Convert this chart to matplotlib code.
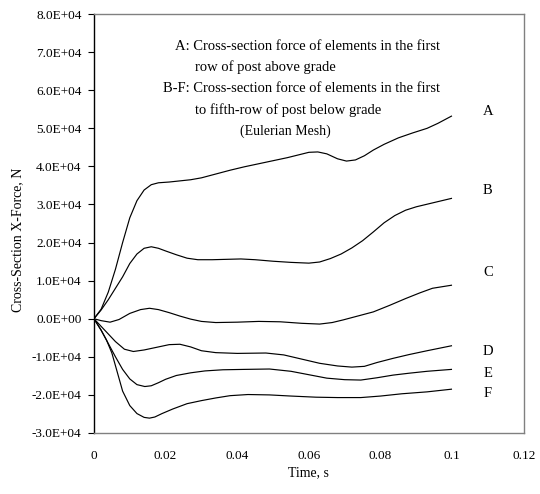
import numpy as np
import matplotlib
matplotlib.use("Agg")
import matplotlib.pyplot as plt
from matplotlib.ticker import FuncFormatter

plt.rcParams['font.family'] = ['Liberation Serif', 'DejaVu Serif']

# 曲线数据 (时间 s, 截面力 N)
t_a = [0, 0.002, 0.004, 0.006, 0.008, 0.010, 0.012, 0.014, 0.016, 0.018, 0.021, 0.024, 0.027,
       0.030, 0.034, 0.038, 0.042, 0.046, 0.050, 0.054, 0.057, 0.060, 0.0625, 0.065, 0.068,
       0.0705, 0.073, 0.0755, 0.078, 0.081, 0.085, 0.089, 0.093, 0.096, 0.0998]
f_a = [0, 2500, 7000, 13000, 20000, 26500, 31000, 33800, 35200, 35700, 35900, 36200, 36500,
       37000, 38000, 39000, 39900, 40700, 41500, 42300, 43000, 43700, 43800, 43300, 42000,
       41400, 41700, 42800, 44300, 45800, 47500, 48800, 50000, 51300, 53200]

t_b = [0, 0.002, 0.004, 0.006, 0.008, 0.010, 0.012, 0.014, 0.016, 0.018, 0.020, 0.023, 0.026,
       0.029, 0.033, 0.037, 0.041, 0.045, 0.050, 0.055, 0.060, 0.063, 0.066, 0.069, 0.072,
       0.075, 0.078, 0.081, 0.084, 0.087, 0.090, 0.094, 0.0998]
f_b = [0, 2300, 5000, 8000, 11000, 14500, 17000, 18500, 18900, 18500, 17800, 16800, 15900,
       15500, 15500, 15600, 15700, 15500, 15100, 14800, 14600, 14900, 15800, 17000, 18600,
       20500, 22800, 25200, 27100, 28500, 29400, 30300, 31600]

t_c = [0, 0.002, 0.0045, 0.007, 0.010, 0.013, 0.0155, 0.018, 0.021, 0.024, 0.027, 0.030,
       0.034, 0.040, 0.046, 0.052, 0.058, 0.063, 0.0665, 0.0696, 0.074, 0.078, 0.0825,
       0.087, 0.091, 0.0945, 0.0998]
f_c = [0, -500, -900, -200, 1400, 2400, 2750, 2400, 1600, 700, -100, -700,
       -1000, -900, -700, -800, -1200, -1400, -1000, -300, 800, 1800, 3500,
       5300, 6800, 8000, 8800]

t_d = [0, 0.003, 0.006, 0.0085, 0.011, 0.014, 0.018, 0.021, 0.024, 0.027, 0.030, 0.034,
       0.040, 0.048, 0.053, 0.058, 0.063, 0.068, 0.072, 0.0755, 0.079, 0.0835, 0.088,
       0.093, 0.0998]
f_d = [0, -3000, -6000, -8000, -8600, -8200, -7400, -6800, -6700, -7400, -8400, -8900,
       -9100, -9000, -9500, -10600, -11700, -12400, -12700, -12500, -11500, -10400, -9400,
       -8400, -7100]

t_e = [0, 0.002, 0.004, 0.006, 0.008, 0.010, 0.012, 0.0142, 0.016, 0.018, 0.020, 0.023,
       0.027, 0.031, 0.036, 0.042, 0.049, 0.055, 0.060, 0.065, 0.070, 0.0745, 0.079,
       0.0835, 0.088, 0.093, 0.0998]
f_e = [0, -3000, -6500, -10000, -13300, -15800, -17300, -17800, -17600, -16800, -15900, -14900,
       -14200, -13700, -13400, -13300, -13200, -13800, -14700, -15600, -16000, -16100, -15500,
       -14800, -14300, -13800, -13300]

t_f = [0, 0.002, 0.0035, 0.005, 0.0065, 0.008, 0.010, 0.012, 0.014, 0.0155, 0.017, 0.019,
       0.022, 0.026, 0.030, 0.034, 0.038, 0.043, 0.049, 0.055, 0.062, 0.068, 0.0745, 0.080,
       0.086, 0.093, 0.0998]
f_f = [0, -3000, -5600, -9000, -14000, -19000, -22800, -24900, -25900, -26100, -25800, -24900,
       -23700, -22300, -21500, -20800, -20200, -19900, -20000, -20300, -20600, -20700, -20700,
       -20300, -19700, -19200, -18500]

curves = [(t_a, f_a), (t_b, f_b), (t_c, f_c), (t_d, f_d), (t_e, f_e), (t_f, f_f)]
labels = ['A', 'B', 'C', 'D', 'E', 'F']
label_y = [54500, 33800, 12200, -8700, -14300, -19500]

fig = plt.figure(figsize=(5.40, 4.94), dpi=100)
ax = fig.add_axes([0.174, 0.1235, 0.796, 0.848])

for t, f in curves:
    ax.plot(t, f, color='black', linewidth=0.85)

for lab, ly in zip(labels, label_y):
    ax.text(0.110, ly, lab, fontsize=10.5, ha='center', va='center')

ax.set_xlim(0, 0.12)
ax.set_ylim(-30000, 80000)
ax.set_xticks([0, 0.02, 0.04, 0.06, 0.08, 0.1, 0.12])
ax.set_xticklabels(['0', '0.02', '0.04', '0.06', '0.08', '0.1', '0.12'])
ax.set_yticks(np.arange(-30000, 80001, 10000))
ax.yaxis.set_major_formatter(FuncFormatter(
    lambda v, p: '%.1fE+%02d' % (v / 1e4, 4) if v != 0 else '0.0E+00'))
ax.tick_params(axis='y', direction='out', length=4, width=0.8, labelsize=9.5, pad=5)
ax.tick_params(axis='x', length=0, labelsize=9.5, pad=12)

for s in ['top', 'right', 'bottom']:
    ax.spines[s].set_color('#808080')
    ax.spines[s].set_linewidth(1.0)
ax.spines['left'].set_color('black')
ax.spines['left'].set_linewidth(1.0)

ax.set_xlabel('Time, s', fontsize=10)
ax.xaxis.set_label_coords(0.5, -0.079)
ax.set_ylabel('Cross-Section X-Force, N', fontsize=10)
ax.yaxis.set_label_coords(-0.162, 0.46)

# 说明文字
ax.text(0.0226, 71600, 'A: Cross-section force of elements in the first', fontsize=10.5, va='center')
ax.text(0.0282, 66000, 'row of post above grade', fontsize=10.5, va='center')
ax.text(0.0193, 60400, 'B-F: Cross-section force of elements in the first', fontsize=10.5, va='center')
ax.text(0.0282, 54800, 'to fifth-row of post below grade', fontsize=10.5, va='center')
ax.text(0.0533, 49200, '(Eulerian Mesh)', fontsize=10, va='center', ha='center')

fig.savefig('out.png', dpi=100)
